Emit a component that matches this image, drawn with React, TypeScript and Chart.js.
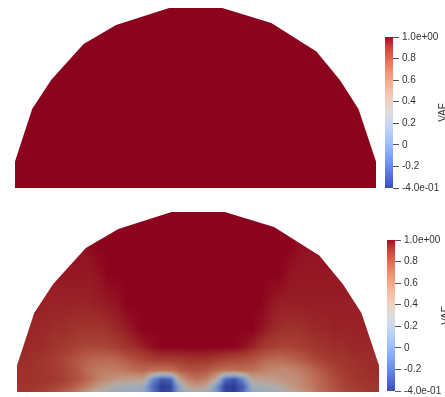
import React, { useEffect, useRef } from "react";
import { Chart, registerables } from "chart.js";

Chart.register(...registerables);

// ---------------- data ----------------
const COLORBAR_TITLE = "VAF";
const VAF_MIN = -0.4;
const VAF_MAX = 1.0;
const TICK_VALUES = [-0.4, -0.2, 0, 0.2, 0.4, 0.6, 0.8, 1.0];
const TICK_LABELS = ["-4.0e-01", "-0.2", "0", "0.2", "0.4", "0.6", "0.8", "1.0e+00"];

// mesh boundary (half disc), normalised coordinates
const OUTLINE_X = [-1, -1, -0.905, -0.8, -0.62, -0.44, -0.146, 0.148, 0.42, 0.67, 0.8, 0.903, 1, 1];
const OUTLINE_Y = [0, 0.147, 0.439, 0.6, 0.8, 0.905, 1, 1, 0.917, 0.758, 0.6, 0.439, 0.147, 0];

// upper panel: VAF is 1 everywhere
const TOP_GRID_X = [-1, 1];
const TOP_GRID_Y = [0, 1];
const TOP_VAF = [
  [1, 1],
  [1, 1],
];

// lower panel: VAF sampled on a grid
const BOT_GRID_X = [
  -1, -0.95, -0.9, -0.85, -0.8, -0.75, -0.7, -0.65, -0.6, -0.55, -0.5, -0.45, -0.4, -0.35,
  -0.3, -0.25, -0.2, -0.15, -0.1, -0.05, 0, 0.05, 0.1, 0.15, 0.2, 0.25, 0.3, 0.35, 0.4,
  0.45, 0.5, 0.55, 0.6, 0.65, 0.7, 0.75, 0.8, 0.85, 0.9, 0.95, 1,
];
const BOT_GRID_Y = [0, 0.03, 0.07, 0.12, 0.18, 0.25, 0.35, 0.5, 0.65, 0.8, 1.0];
const BOT_VAF_R0 = [0.90,0.90,0.88,0.86,0.82,0.77,0.70,0.60,0.45,0.32,0.25,0.20,0.18,0.18,0.15,-0.15,-0.38,-0.32,0.10,0.25,0.30,0.25,0.03,-0.35,-0.40,-0.20,0.15,0.20,0.22,0.25,0.35,0.45,0.55,0.65,0.72,0.78,0.83,0.86,0.88,0.89,0.90];
const BOT_VAF_R1 = [0.90,0.90,0.89,0.88,0.86,0.83,0.78,0.70,0.60,0.48,0.36,0.28,0.25,0.25,0.18,-0.20,-0.40,-0.36,0.15,0.42,0.48,0.38,0.02,-0.38,-0.40,-0.25,0.20,0.28,0.30,0.35,0.45,0.52,0.60,0.68,0.75,0.80,0.85,0.87,0.89,0.90,0.90];
const BOT_VAF_R2 = [0.91,0.91,0.91,0.90,0.89,0.87,0.83,0.78,0.72,0.62,0.55,0.50,0.46,0.44,0.45,-0.05,-0.30,-0.22,0.45,0.62,0.68,0.60,0.40,-0.20,-0.32,-0.05,0.40,0.42,0.46,0.50,0.53,0.56,0.62,0.70,0.76,0.82,0.86,0.89,0.90,0.91,0.91];
const BOT_VAF_R3 = [0.91,0.91,0.90,0.89,0.88,0.86,0.82,0.76,0.68,0.64,0.62,0.63,0.66,0.70,0.72,0.70,0.68,0.70,0.76,0.80,0.80,0.78,0.72,0.68,0.68,0.70,0.68,0.62,0.58,0.56,0.57,0.61,0.67,0.74,0.80,0.85,0.88,0.90,0.91,0.92,0.92];
const BOT_VAF_R4 = [0.92,0.92,0.91,0.90,0.88,0.85,0.81,0.77,0.73,0.71,0.71,0.73,0.77,0.81,0.84,0.87,0.88,0.88,0.89,0.90,0.90,0.90,0.88,0.86,0.84,0.82,0.80,0.75,0.71,0.70,0.72,0.76,0.80,0.84,0.87,0.89,0.90,0.91,0.92,0.92,0.92];
const BOT_VAF_R5 = [0.93,0.93,0.92,0.92,0.90,0.89,0.87,0.85,0.84,0.84,0.85,0.87,0.90,0.92,0.95,0.98,1,1,1,1,1,1,1,1,1,0.98,0.94,0.90,0.87,0.85,0.85,0.86,0.88,0.90,0.91,0.92,0.92,0.93,0.93,0.93,0.93];
const BOT_VAF_R6 = [0.94,0.94,0.93,0.93,0.92,0.92,0.91,0.90,0.90,0.90,0.91,0.93,0.95,0.98,1,1,1,1,1,1,1,1,1,1,1,1,1,0.97,0.94,0.92,0.91,0.91,0.92,0.93,0.93,0.94,0.94,0.94,0.94,0.94,0.94];
const BOT_VAF_R7 = [0.95,0.95,0.95,0.94,0.94,0.94,0.94,0.94,0.94,0.95,0.96,0.97,1,1,1,1,1,1,1,1,1,1,1,1,1,1,1,1,0.97,0.95,0.95,0.95,0.95,0.95,0.95,0.95,0.95,0.95,0.95,0.95,0.95];
const BOT_VAF_R8 = [0.96,0.96,0.96,0.96,0.96,0.96,0.96,0.96,0.96,0.97,1,1,1,1,1,1,1,1,1,1,1,1,1,1,1,1,1,1,1,1,0.97,0.96,0.96,0.96,0.96,0.96,0.96,0.96,0.96,0.96,0.96];
const BOT_VAF_R9 = [0.97,0.97,0.97,0.97,0.97,0.97,0.97,0.97,0.98,1,1,1,1,1,1,1,1,1,1,1,1,1,1,1,1,1,1,1,1,1,1,0.98,0.97,0.97,0.97,0.97,0.97,0.97,0.97,0.97,0.97];
const BOT_VAF_R10 = [1,1,1,1,1,1,1,1,1,1,1,1,1,1,1,1,1,1,1,1,1,1,1,1,1,1,1,1,1,1,1,1,1,1,1,1,1,1,1,1,1];
const BOT_VAF = [BOT_VAF_R0, BOT_VAF_R1, BOT_VAF_R2, BOT_VAF_R3, BOT_VAF_R4, BOT_VAF_R5, BOT_VAF_R6, BOT_VAF_R7, BOT_VAF_R8, BOT_VAF_R9, BOT_VAF_R10];

// ---------------- style ----------------
// "Cool to Warm" colour map
const CMAP: number[][] = [
  [0, 59, 76, 192], [0.0625, 77, 104, 215], [0.125, 98, 130, 234], [0.1875, 119, 154, 247],
  [0.25, 141, 176, 254], [0.3125, 163, 194, 255], [0.375, 184, 208, 249], [0.4375, 204, 217, 238],
  [0.5, 221, 221, 221], [0.5625, 236, 211, 197], [0.625, 245, 196, 173], [0.6875, 247, 177, 148],
  [0.75, 244, 154, 123], [0.8125, 236, 127, 99], [0.875, 222, 96, 77], [0.9375, 203, 62, 56],
  [1, 180, 4, 38],
];
const SHADE = 0.78; // surface lighting
const FONT_FAMILY = "'Liberation Sans', Arial, sans-serif";
const TEXT_COLOR = "#333";

function cmapRGB(v: number): number[] {
  let t = (v - VAF_MIN) / (VAF_MAX - VAF_MIN);
  t = Math.max(0, Math.min(1, t));
  for (let i = 0; i < CMAP.length - 1; i++) {
    const a = CMAP[i];
    const b = CMAP[i + 1];
    if (t <= b[0]) {
      const f = (t - a[0]) / (b[0] - a[0]);
      return [a[1] + (b[1] - a[1]) * f, a[2] + (b[2] - a[2]) * f, a[3] + (b[3] - a[3]) * f];
    }
  }
  const l = CMAP[CMAP.length - 1];
  return [l[1], l[2], l[3]];
}

function findCell(g: number[], v: number): [number, number] {
  if (v <= g[0]) return [0, 0];
  if (v >= g[g.length - 1]) return [g.length - 2, 1];
  let i = 0;
  while (i < g.length - 2 && v > g[i + 1]) i++;
  return [i, (v - g[i]) / (g[i + 1] - g[i])];
}

function FieldPanel(props: { gx: number[]; gy: number[]; vals: number[][]; left: number; top: number; width: number; height: number }) {
  const { gx, gy, vals, left, top, width, height } = props;
  const ref = useRef<HTMLCanvasElement>(null);
  useEffect(() => {
    const canvas = ref.current!;
    const fieldPlugin = {
      id: "fieldPlugin",
      beforeDatasetsDraw(chart: any) {
        const { ctx, scales } = chart;
        const xs = scales.x;
        const ys = scales.y;
        const W = Math.round(chart.width);
        const H = Math.round(chart.height);
        const off = document.createElement("canvas");
        off.width = W;
        off.height = H;
        const octx = off.getContext("2d")!;
        const img = octx.createImageData(W, H);
        for (let py = 0; py < H; py++) {
          const yv = ys.getValueForPixel(py + 0.5);
          const [j, fy] = findCell(gy, yv);
          for (let px = 0; px < W; px++) {
            const xv = xs.getValueForPixel(px + 0.5);
            const [i, fx] = findCell(gx, xv);
            const v0 = vals[j][i] * (1 - fx) + vals[j][i + 1] * fx;
            const v1 = vals[j + 1][i] * (1 - fx) + vals[j + 1][i + 1] * fx;
            const v = v0 * (1 - fy) + v1 * fy;
            const c = cmapRGB(v);
            const k = (py * W + px) * 4;
            img.data[k] = c[0] * SHADE;
            img.data[k + 1] = c[1] * SHADE;
            img.data[k + 2] = c[2] * SHADE;
            img.data[k + 3] = 255;
          }
        }
        octx.putImageData(img, 0, 0);
        const pts = chart.getDatasetMeta(0).data;
        ctx.save();
        ctx.beginPath();
        pts.forEach((p: any, i: number) => (i ? ctx.lineTo(p.x, p.y) : ctx.moveTo(p.x, p.y)));
        ctx.closePath();
        ctx.clip();
        ctx.drawImage(off, 0, 0);
        ctx.restore();
      },
    };
    const chart = new Chart(canvas, {
      type: "scatter",
      data: {
        datasets: [
          {
            data: OUTLINE_X.map((x, i) => ({ x, y: OUTLINE_Y[i] })),
            showLine: false,
            pointRadius: 0,
            borderWidth: 0,
          },
        ],
      },
      options: {
        responsive: false,
        animation: false,
        devicePixelRatio: 1,
        layout: { padding: 2 },
        scales: {
          x: { type: "linear", min: -1, max: 1, display: false },
          y: { type: "linear", min: 0, max: 1, display: false },
        },
        plugins: { legend: { display: false }, tooltip: { enabled: false } },
      },
      plugins: [fieldPlugin],
    } as any);
    return () => chart.destroy();
  }, []);
  return (
    <canvas
      ref={ref}
      width={width}
      height={height}
      style={{ position: "absolute", left, top, width, height }}
    />
  );
}

function ColorBar(props: { left: number; top: number; barWidth: number; height: number; axisWidth: number; titleShift: number }) {
  const { left, top, barWidth, height, axisWidth, titleShift } = props;
  const ref = useRef<HTMLCanvasElement>(null);
  const width = barWidth + axisWidth;
  useEffect(() => {
    const canvas = ref.current!;
    const titlePlugin = {
      id: "cbTitle",
      afterDraw(chart: any) {
        const a = chart.chartArea;
        const ctx = chart.ctx;
        ctx.save();
        ctx.translate(a.right + titleShift, (a.top + a.bottom) / 2);
        ctx.rotate(-Math.PI / 2);
        ctx.font = `10px ${FONT_FAMILY}`;
        ctx.fillStyle = TEXT_COLOR;
        ctx.textAlign = "center";
        ctx.textBaseline = "alphabetic";
        ctx.fillText(COLORBAR_TITLE, 0, 0);
        ctx.restore();
      },
    };
    const chart = new Chart(canvas, {
      type: "bar",
      data: {
        labels: [COLORBAR_TITLE],
        datasets: [
          {
            data: [[VAF_MIN, VAF_MAX]],
            backgroundColor: (c: any) => {
              const ch = c.chart;
              const area = ch.chartArea;
              if (!area) return "rgb(180,4,38)";
              const ys = ch.scales.y;
              const g = ch.ctx.createLinearGradient(0, ys.getPixelForValue(VAF_MIN), 0, ys.getPixelForValue(VAF_MAX));
              CMAP.forEach((s) => g.addColorStop(s[0], `rgb(${s[1]},${s[2]},${s[3]})`));
              return g;
            },
            borderWidth: 0,
            barPercentage: 1,
            categoryPercentage: 1,
          },
        ],
      },
      options: {
        responsive: false,
        animation: false,
        devicePixelRatio: 1,
        layout: { padding: { top: 12, bottom: 12, left: 0, right: 0 } },
        scales: {
          x: { display: false },
          y: {
            position: "right",
            min: VAF_MIN,
            max: VAF_MAX,
            afterBuildTicks: (s: any) => {
              s.ticks = TICK_VALUES.map((v) => ({ value: v }));
            },
            afterFit: (s: any) => {
              s.width = axisWidth;
            },
            ticks: {
              autoSkip: false,
              padding: 3,
              color: TEXT_COLOR,
              font: { family: FONT_FAMILY, size: 10 },
              callback: (v: any) => {
                const idx = TICK_VALUES.findIndex((t) => Math.abs(t - Number(v)) < 1e-6);
                return idx >= 0 ? TICK_LABELS[idx] : "";
              },
            },
            grid: { drawOnChartArea: false, tickLength: 6, color: "#555", lineWidth: 1 },
            border: { display: false },
          },
        },
        plugins: { legend: { display: false }, tooltip: { enabled: false } },
      },
      plugins: [titlePlugin],
    } as any);
    return () => chart.destroy();
  }, []);
  return (
    <canvas
      ref={ref}
      width={width}
      height={height}
      style={{ position: "absolute", left, top, width, height }}
    />
  );
}

export default function App() {
  return (
    <div
      style={{
        position: "fixed",
        left: 0,
        top: 0,
        width: 445,
        height: 397,
        overflow: "hidden",
        background: "#ffffff",
      }}
    >
      <FieldPanel gx={TOP_GRID_X} gy={TOP_GRID_Y} vals={TOP_VAF} left={13} top={6} width={365} height={184} />
      <ColorBar left={385} top={25} barWidth={8} axisWidth={72} height={175} titleShift={53} />
      <FieldPanel gx={BOT_GRID_X} gy={BOT_GRID_Y} vals={BOT_VAF} left={15} top={210} width={366} height={184} />
      <ColorBar left={387} top={228} barWidth={8} axisWidth={72} height={175} titleShift={53.5} />
    </div>
  );
}
